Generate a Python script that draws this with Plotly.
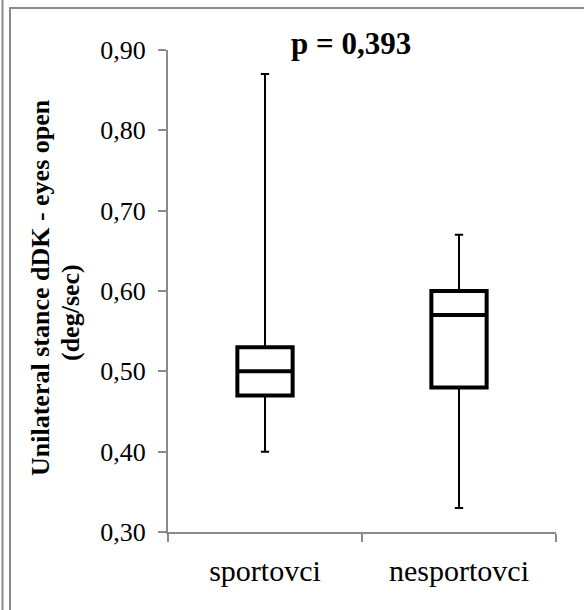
import plotly.graph_objects as go

# ---- data ----
categories = ["sportovci", "nesportovci"]
lower_whisker = [0.40, 0.33]
q1 = [0.47, 0.48]
median = [0.50, 0.57]
q3 = [0.53, 0.60]
upper_whisker = [0.87, 0.67]
y_range = [0.30, 0.90]
y_tick_values = [0.30, 0.40, 0.50, 0.60, 0.70, 0.80, 0.90]
y_title_line1 = "Unilateral stance dDK - eyes open"
y_title_line2 = "(deg/sec)"
p_label = "p = 0,393"

# ---- layout constants ----
W, H = 584, 610
L, R, T, B = 168, 28, 50, 78
PW, PH = W - L - R, H - T - B
FONT = "Liberation Serif, Times New Roman, serif"
GRAY = "#8a8a8a"


def px_x(px):
    return (px - L) / PW


def px_y(py):
    return (H - B - py) / PH


fig = go.Figure()

# thin whiskers + caps
fig.add_trace(go.Box(
    x=categories, q1=q1, median=median, q3=q3,
    lowerfence=lower_whisker, upperfence=upper_whisker,
    line=dict(color="black", width=2), fillcolor="white",
    whiskerwidth=0.15, boxpoints=False, showlegend=False, hoverinfo="skip",
))
# thick box + median
fig.add_trace(go.Box(
    x=categories, q1=q1, median=median, q3=q3,
    lowerfence=q1, upperfence=q3,
    line=dict(color="black", width=4), fillcolor="white",
    whiskerwidth=0.15, boxpoints=False, showlegend=False, hoverinfo="skip",
))

shapes = [
    dict(type="line", xref="paper", yref="paper",
         x0=px_x(2.5), x1=px_x(2.5), y0=px_y(0), y1=px_y(H),
         line=dict(color=GRAY, width=2)),
    dict(type="line", xref="paper", yref="paper",
         x0=px_x(10), x1=px_x(10), y0=px_y(8), y1=px_y(H),
         line=dict(color=GRAY, width=2)),
    dict(type="line", xref="paper", yref="paper",
         x0=px_x(9), x1=px_x(W), y0=px_y(8), y1=px_y(8),
         line=dict(color=GRAY, width=2)),
]

annotations = [
    dict(text=f"<b>{y_title_line1}</b>", xref="paper", yref="paper",
         x=px_x(40), y=px_y(288), textangle=-90, showarrow=False,
         xanchor="center", yanchor="middle",
         font=dict(family=FONT, size=26, color="black")),
    dict(text=f"<b>{y_title_line2}</b>", xref="paper", yref="paper",
         x=px_x(70), y=px_y(313), textangle=-90, showarrow=False,
         xanchor="center", yanchor="middle",
         font=dict(family=FONT, size=26, color="black")),
    dict(text=f"<b>{p_label}</b>", xref="paper", yref="paper",
         x=px_x(351), y=px_y(43), showarrow=False,
         xanchor="center", yanchor="middle",
         font=dict(family=FONT, size=31, color="black")),
]

fig.update_layout(
    width=W, height=H,
    margin=dict(l=L, r=R, t=T, b=B, autoexpand=False),
    paper_bgcolor="white", plot_bgcolor="white",
    boxmode="overlay", boxgap=0.593,
    separators=", ",
    shapes=shapes, annotations=annotations,
    showlegend=False,
    xaxis=dict(
        type="category", range=[-0.5, 1.5],
        showline=True, linecolor=GRAY, linewidth=2,
        ticks="outside", ticklen=8, tickwidth=2, tickcolor=GRAY,
        tickson="boundaries", showgrid=False, zeroline=False,
        tickfont=dict(family=FONT, size=30, color="black"),
        ticklabelstandoff=11, automargin=False,
    ),
    yaxis=dict(
        range=y_range, tickvals=y_tick_values, tickformat=".2f",
        showline=True, linecolor=GRAY, linewidth=2,
        ticks="outside", ticklen=8, tickwidth=2, tickcolor=GRAY,
        showgrid=False, zeroline=False,
        tickfont=dict(family=FONT, size=26, color="black"),
        ticklabelstandoff=7, automargin=False,
    ),
)

fig.write_html("out.html")
